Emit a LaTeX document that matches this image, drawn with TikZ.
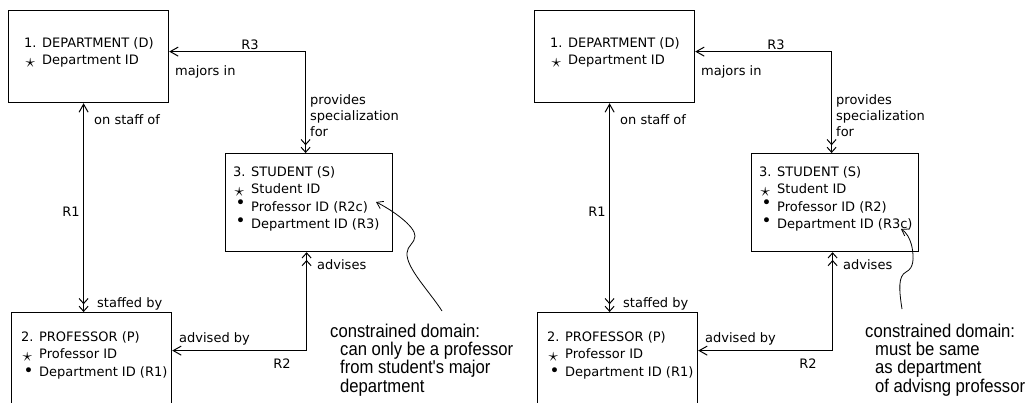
\documentclass[tikz,border=0pt]{standalone}
\usepackage{graphicx}
\usepackage{fontspec}
\setmainfont{DejaVu Sans}
\newfontfamily\notefont[FakeStretch=0.9]{Liberation Sans}
\usetikzlibrary{arrows.meta}

% key and foreign key markers
\newcommand{\pk}{\makebox[18pt][l]{\hspace{1.5pt}\raisebox{-2.5pt}{\scalebox{1.6}{$\star$}}}}
\newcommand{\fk}[1][2.5pt]{\makebox[18pt][l]{\hspace{2.5pt}\raisebox{#1}{\scalebox{1.3}{\textbullet}}}}

\begin{document}
\begin{tikzpicture}[x=1pt,y=-1pt,
  entity/.style={draw,line width=1.2pt,anchor=north west,inner sep=0pt},
  attrs/.style={anchor=base west,inner sep=0pt,align=left,font=\fontsize{13}{17.5}\selectfont},
  lbl/.style={inner sep=0pt,font=\fontsize{13}{16}\selectfont},
  rel/.style={line width=1pt},
  note/.style={anchor=base west,inner sep=0pt,align=left,font=\notefont\fontsize{18.5}{18.3}\selectfont},
  pointer/.style={line width=0.8pt,-{Straight Barb[length=6pt,width=8pt]}},
  One/.tip={Straight Barb[length=8pt,width=9pt]},
  Many/.tip={Straight Barb[length=5pt,width=9pt,sep=1.5pt] Straight Barb[length=5pt,width=9pt]}]

  \useasboundingbox (0,0) rectangle (1031,402);
  \clip (0,0) rectangle (1031,402);

% left: constraint on professor ID
  \node[entity,minimum width=160pt,minimum height=92pt]  (deptL) at (8,10) {};
  \node[entity,minimum width=167pt,minimum height=98pt]  (studL) at (225,153) {};
  \node[entity,minimum width=160pt,minimum height=110pt] (profL) at (11,312) {};

  % attribute lists (anchored at the baseline of their last line)
  \node[attrs] (deptAttrL) at (24,64.5)  {1. DEPARTMENT (D)\\\pk Department ID};
  \node[attrs] (studAttrL) at (233,228.5) {3. STUDENT (S)\\\pk Student ID\\\fk Professor ID (R2c)\\\fk Department ID (R3)};
  \node[attrs] (profAttrL) at (21,376) {2. PROFESSOR (P)\\\pk Professor ID\\\fk[0pt]Department ID (R1)};

  % relationships
  \draw[rel,One-Many] ([yshift=5pt]deptL.east) -| ([xshift=-3.5pt]studL.north);
  \draw[rel,One-Many] ([xshift=-5pt]deptL.south) -- ([xshift=-5pt]deptL.south |- profL.north);
  \draw[rel,Many-One] ([xshift=-2.5pt]studL.south) |- ([yshift=17pt]profL.east);

  \node[lbl,anchor=base]      (r3L)      at (250,49)  {R3};
  \node[lbl,anchor=base west] (majorsL)  at (175,75)  {majors in};
  \node[lbl,anchor=base west,align=left] (provL) at (310,136) {provides\\specialization\\for};
  \node[lbl,anchor=base west] (staffOfL) at (94,124)  {on staff of};
  \node[lbl,anchor=base]      (r1L)      at (71,216)  {R1};
  \node[lbl,anchor=base west] (staffByL) at (97,307)  {staffed by};
  \node[lbl,anchor=base west] (advL)     at (317,269) {advises};
  \node[lbl,anchor=base west] (advByL)   at (179,342) {advised by};
  \node[lbl,anchor=base]      (r2L)      at (282,368) {R2};

  % constrained domain note
  \node[note] (noteL) at (330,392) {constrained domain:\\\hspace*{10pt}can only be a professor\\\hspace*{10pt}from student's major\\\hspace*{10pt}department};
  \coordinate (tipL) at (376,202);
  \draw[pointer] ([shift={(112,-81)}]noteL.base west) .. controls (430,292) and (406,268) .. (407,253)
    .. controls (407,246) and (415,243) .. (415,236) .. controls (415,226) and (392,210) .. (tipL);

% right: constraint on department ID
\begin{scope}[xshift=526pt]
  \node[entity,minimum width=160pt,minimum height=92pt]  (deptR) at (8,10) {};
  \node[entity,minimum width=167pt,minimum height=98pt]  (studR) at (225,153) {};
  \node[entity,minimum width=160pt,minimum height=110pt] (profR) at (11,312) {};

  \node[attrs] (deptAttrR) at (24,64.5)  {1. DEPARTMENT (D)\\\pk Department ID};
  \node[attrs] (studAttrR) at (233,228.5) {3. STUDENT (S)\\\pk Student ID\\\fk Professor ID (R2)\\\fk Department ID (R3c)};
  \node[attrs] (profAttrR) at (21,376) {2. PROFESSOR (P)\\\pk Professor ID\\\fk[0pt]Department ID (R1)};

  % relationships
  \draw[rel,One-Many] ([yshift=5pt]deptR.east) -| ([xshift=-3.5pt]studR.north);
  \draw[rel,One-Many] ([xshift=-5pt]deptR.south) -- ([xshift=-5pt]deptR.south |- profR.north);
  \draw[rel,Many-One] ([xshift=-2.5pt]studR.south) |- ([yshift=17pt]profR.east);

  \node[lbl,anchor=base]      (r3R)      at (250,49)  {R3};
  \node[lbl,anchor=base west] (majorsR)  at (175,75)  {majors in};
  \node[lbl,anchor=base west,align=left] (provR) at (310,136) {provides\\specialization\\for};
  \node[lbl,anchor=base west] (staffOfR) at (94,124)  {on staff of};
  \node[lbl,anchor=base]      (r1R)      at (71,216)  {R1};
  \node[lbl,anchor=base west] (staffByR) at (97,307)  {staffed by};
  \node[lbl,anchor=base west] (advR)     at (317,269) {advises};
  \node[lbl,anchor=base west] (advByR)   at (179,342) {advised by};
  \node[lbl,anchor=base]      (r2R)      at (282,368) {R2};

  % constrained domain note
  \node[note] (noteR) at (339,392) {constrained domain:\\\hspace*{10pt}must be same\\\hspace*{10pt}as department\\\hspace*{10pt}of advisng professor};
  \coordinate (tipR) at (375,229);
  \draw[pointer] ([shift={(37,-83)}]noteR.base west) .. controls (373,290) and (372,276) .. (380,272)
    .. controls (388,268) and (388,258) .. (386,247) .. controls (384,238) and (380,232) .. (tipR);
\end{scope}

\end{tikzpicture}
\end{document}
